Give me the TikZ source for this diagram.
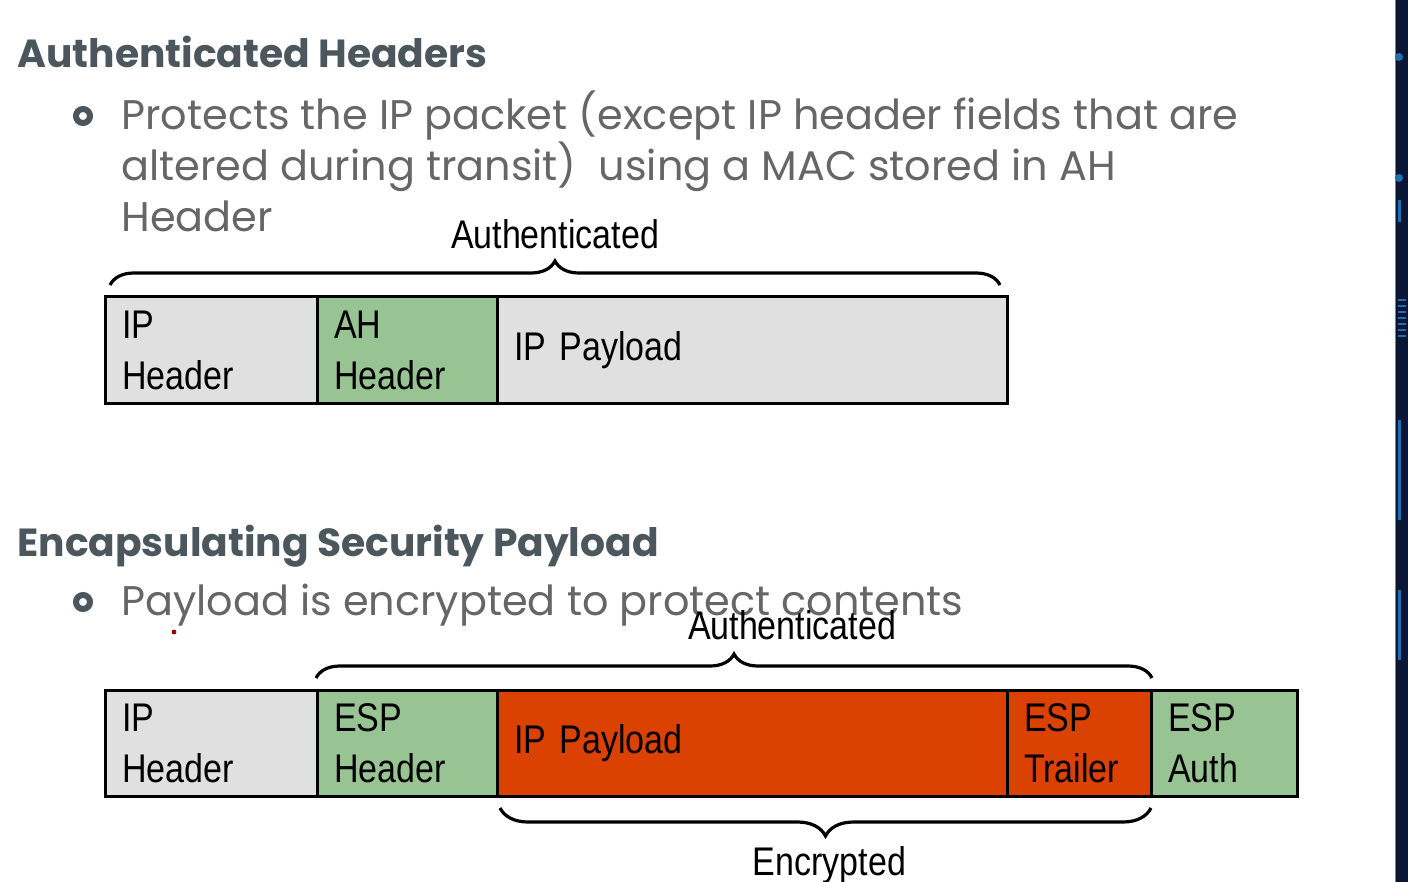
\documentclass[tikz,border=0pt]{standalone}
\usepackage{fontspec}
\usepackage{xcolor}
\usepackage{tikz}
\usetikzlibrary{positioning, calc, decorations.pathreplacing}
\setmainfont{Poppins}
\newfontfamily\narrowfont[FakeStretch=0.85]{Liberation Sans}
\definecolor{cellgray}{HTML}{E0E0E0}
\definecolor{cellgreen}{HTML}{98C494}
\definecolor{cellorange}{HTML}{DB4100}
\definecolor{headgray}{HTML}{4C575D}
\definecolor{bodygray}{HTML}{666666}
\definecolor{navy}{HTML}{0A1636}
\definecolor{circuitblue}{HTML}{1F6FAE}
\tikzstyle{heading} = [anchor=base west, inner sep=0pt, font=\bfseries\fontsize{19.6}{23}\selectfont, text=headgray]
\tikzstyle{bodytext} = [anchor=base west, inner sep=0pt, align=left, font=\fontsize{20.7}{25.5}\selectfont, text=bodygray]
\tikzstyle{bulletdot} = [circle, draw=headgray, fill=white, line width=3pt, minimum size=7pt, inner sep=0pt]
\tikzstyle{cell} = [rectangle, draw=black, line width=1.5pt, minimum height=53pt, outer sep=0pt, inner xsep=8.5pt, align=left, font=\narrowfont\fontsize{20}{25.5}\selectfont]
\tikzstyle{brace} = [decorate, decoration={brace, amplitude=12pt}, line width=1.6pt]
\tikzstyle{lbl} = [inner sep=0pt, font=\narrowfont\fontsize{20}{24}\selectfont]
\begin{document}
\begin{tikzpicture}[x=0.5pt, y=-0.5pt]
	\fill[white] (0,0) rectangle (1408,882);
	\useasboundingbox (0,0) rectangle (1408,882);
	% rand rechts
	\fill[navy] (1395,0) rectangle (1408,882);
	\draw[gray, line width=0.5pt] (1395,0) -- (1395,882);
	\fill[circuitblue] (1399,57) circle (2pt);
	\fill[circuitblue] (1399,178) circle (2pt);
	\draw[circuitblue, line width=1.5pt] (1399,200) -- (1399,222);
	\foreach \y in {300,306,...,340} \draw[circuitblue, line width=1pt] (1398,\y) -- (1406,\y);
	\draw[circuitblue, line width=1.5pt] (1399,420) -- (1399,520);
	\draw[circuitblue, line width=1.5pt] (1399,590) -- (1399,660);
	
	% AH
	\node (ahTitle) [heading] at (17,68) {Authenticated Headers};
	\node (ahDot) [bulletdot] at (83,116) {};
	\node (ahText) [bodytext] at (121,232) {Protects the IP packet (except IP header fields that are\\altered during transit)\ \ using a MAC stored in AH\\Header};
	
	\node (ip1) [cell, fill=cellgray, minimum width=106pt, text width=89pt, anchor=north west] at (105,297) {IP\\Header};
	\node (ah1) [cell, fill=cellgreen, minimum width=90pt, text width=73pt, right=0pt of ip1] {AH\\Header};
	\node (pay1) [cell, fill=cellgray, minimum width=255pt, text width=238pt, right=0pt of ah1] {IP Payload};
	
	\draw [brace] ($(ip1.north west)+(5,-12)$) -- node[lbl, above=17.5pt] (auth1) {Authenticated} ($(pay1.north east)+(-7,-12)$);
	
	% ESP
	\node (espTitle) [heading] at (17,556) {Encapsulating Security Payload};
	\node (espDot) [bulletdot] at (83,602) {};
	\node (espText) [bodytext] at (121,615) {Payload is encrypted to protect contents};
	\fill[red!60!black] (174,632) circle (1.2pt);
	
	\node (ip2) [cell, fill=cellgray, minimum width=106pt, text width=89pt, anchor=north west] at (105,690) {IP\\Header};
	\node (esp2) [cell, fill=cellgreen, minimum width=90pt, text width=73pt, right=0pt of ip2] {ESP\\Header};
	\node (pay2) [cell, fill=cellorange, minimum width=255pt, text width=238pt, right=0pt of esp2] {IP Payload};
	\node (trail2) [cell, fill=cellorange, minimum width=72pt, text width=55pt, right=0pt of pay2] {ESP\\Trailer};
	\node (auth2) [cell, fill=cellgreen, minimum width=73pt, text width=56pt, right=0pt of trail2] {ESP\\Auth};
	
	\draw [brace] ($(esp2.north west)+(-1,-12)$) -- node[lbl, above=18.5pt, xshift=29pt] (authLbl2) {Authenticated} ($(trail2.north east)+(1,-12)$);
	\draw [brace, decoration={amplitude=14pt}] ($(trail2.south east)+(0,12)$) -- node[lbl, below=18.5pt, xshift=2pt] (encLbl) {Encrypted} ($(pay2.south west)+(3,12)$);
\end{tikzpicture}
\end{document}
